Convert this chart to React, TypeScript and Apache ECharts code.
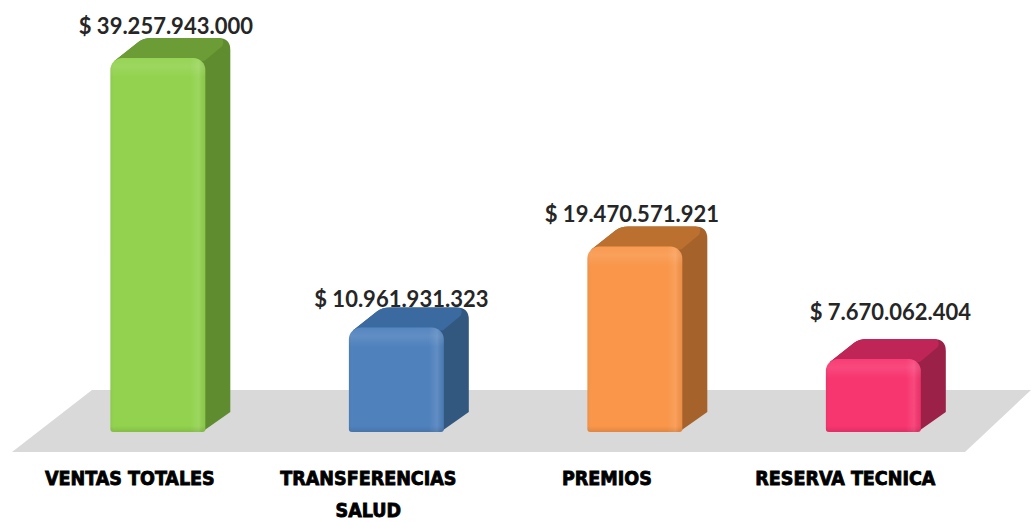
import React, { useEffect, useRef } from "react";
import * as echarts from "echarts";

const categories = ["VENTAS TOTALES", "TRANSFERENCIAS\n\nSALUD", "PREMIOS", "RESERVA TECNICA"];
const values = [39257943000, 10961931323, 19470571921, 7670062404];
const valueLabels = ["$ 39.257.943.000", "$ 10.961.931.323", "$ 19.470.571.921", "$ 7.670.062.404"];
const frontColors = ["#92d24e", "#4f81bd", "#f9964a", "#f7356f"];
const sideColors = ["#5f8c2e", "#33587f", "#a5622a", "#9c2149"];
const topColors = ["#6b9c36", "#3a6a9f", "#bc7030", "#c02558"];
const labelShiftX = [8, 5, -3, 17];
const labelShiftY = [-33, -29, -33, -47];

const DX = 25;
const DY = 20;

export default function App() {
  const ref = useRef<HTMLDivElement>(null);
  useEffect(() => {
    document.body.style.margin = "0";
    const chart = echarts.init(ref.current!, null, { renderer: "svg" });
    const renderItem = (params: any, api: any) => {
      const i = api.value(0);
      const top = api.coord([i, api.value(1)]);
      const base = api.coord([i, 0]);
      const band = api.size([1, 0])[0];
      const w = band * 0.398;
      const x0 = top[0] - w / 2;
      const x1 = x0 + w;
      const yT = top[1];
      const yB = base[1];
      const h = yB - yT;
      const back =
        `M${x0 + 4} ${yT + 3} L${x0 + DX + 3} ${yT - DY + 4} Q${x0 + DX + 8} ${yT - DY} ${x0 + DX + 16} ${yT - DY} ` +
        `L${x1 + DX - 12} ${yT - DY} Q${x1 + DX} ${yT - DY} ${x1 + DX} ${yT - DY + 12} ` +
        `L${x1 + DX} ${yB - DY} L${x1 - 2} ${yB - 1} Z`;
      const topFace =
        `M${x0 + 4} ${yT + 3} L${x0 + DX + 3} ${yT - DY + 4} Q${x0 + DX + 8} ${yT - DY} ${x0 + DX + 16} ${yT - DY} ` +
        `L${x1 + DX - 12} ${yT - DY} Q${x1 + DX - 5} ${yT - DY} ${x1 + DX - 8} ${yT - DY + 8} ` +
        `L${x1 - 1} ${yT + 3} Z`;
      const r = [12, 12, 3, 3];
      const shape = { x: x0, y: yT, width: w, height: h, r };
      const grad = (stops: [number, string][], vertical: boolean) =>
        new echarts.graphic.LinearGradient(0, 0, vertical ? 0 : 1, vertical ? 1 : 0,
          stops.map(([offset, color]) => ({ offset, color })));
      const band12 = Math.min(14 / h, 0.5);
      return {
        type: "group",
        children: [
          { type: "path", shape: { pathData: back }, style: { fill: sideColors[i] } },
          { type: "path", shape: { pathData: topFace }, style: { fill: topColors[i] } },
          { type: "rect", shape, style: { fill: frontColors[i] } },
          {
            type: "rect",
            shape,
            style: {
              fill: grad(
                [
                  [0, "rgba(0,0,0,0.05)"],
                  [0.05, "rgba(255,255,255,0)"],
                  [0.84, "rgba(255,255,255,0)"],
                  [0.93, "rgba(255,255,255,0.1)"],
                  [1, "rgba(0,0,0,0.05)"],
                ],
                false,
              ),
            },
          },
          {
            type: "rect",
            shape,
            style: {
              fill: grad(
                [
                  [0, "rgba(255,255,255,0.04)"],
                  [band12 * 0.6, "rgba(255,255,255,0.1)"],
                  [band12 * 1.4, "rgba(255,255,255,0)"],
                  [1 - 6 / h, "rgba(0,0,0,0)"],
                  [1, "rgba(0,0,0,0.1)"],
                ],
                true,
              ),
            },
          },
          {
            type: "text",
            z2: 10,
            style: {
              text: valueLabels[i],
              x: top[0] + labelShiftX[i],
              y: yT + labelShiftY[i],
              align: "center",
              verticalAlign: "middle",
              fontFamily: "Lato",
              fontWeight: "bold",
              fontSize: 22,
              fill: "#262626",
            },
          },
        ],
      };
    };
    chart.setOption({
      animation: false,
      backgroundColor: "#ffffff",
      grid: { left: 38.6, width: 954, top: 51, height: 381, outerBoundsMode: "none", containLabel: false },
      xAxis: {
        type: "category",
        data: categories,
        axisLine: { show: false },
        axisTick: { show: false },
        axisLabel: {
          interval: 0,
          margin: 38,
          padding: [0, 56, 0, 0],
          fontFamily: "'DejaVu Sans Condensed', 'DejaVu Sans', sans-serif",
          fontWeight: "bold",
          fontSize: 19.5,
          lineHeight: 16,
          color: "#000000",
          textBorderColor: "#000000",
          textBorderWidth: 0.8,
        },
      },
      yAxis: { type: "value", min: 0, max: 40000000000, show: false, splitLine: { show: false } },
      graphic: [
        {
          type: "polygon",
          z: -1,
          shape: { points: [[12, 452], [92, 390], [1031, 390], [965, 452]] },
          style: { fill: "#d9d9d9" },
        },
      ],
      series: [
        {
          type: "custom",
          renderItem,
          clip: false,
          encode: { x: 0, y: 1 },
          data: values.map((v, i) => [i, v]),
        },
      ],
    });
    return () => chart.dispose();
  }, []);
  return <div ref={ref} style={{ width: 1031, height: 522 }} />;
}
